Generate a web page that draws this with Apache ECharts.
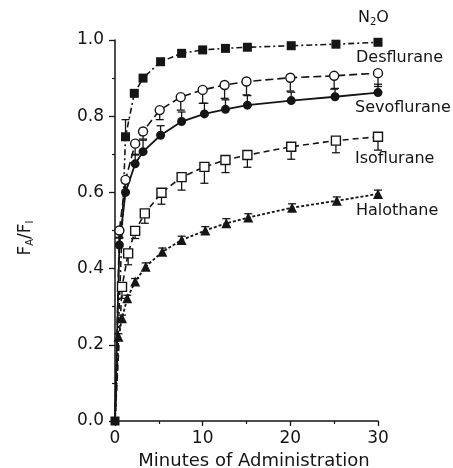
<!DOCTYPE html>
<html><head><meta charset="utf-8">
<script src="https://cdn.jsdelivr.net/npm/echarts@6/dist/echarts.min.js"></script>
<style>html,body{margin:0;padding:0;background:#fff}#c{width:453px;height:468px}</style>
</head><body><div id="c"></div>
<script>
// Data (minutes, FA/FI)
const desT = [0, 1.2, 2.2, 3.2, 5.2, 7.6, 10, 12.6, 15.1, 20.1, 25.2, 30];
const desV = [0, 0.746, 0.86, 0.90, 0.943, 0.965, 0.974, 0.978, 0.981, 0.985, 0.989, 0.994];
const desErr = [0, 0.045, 0.008, 0, 0, 0, 0, 0, 0, 0, 0, 0];

const n2oT = [0, 0.5, 1.2, 2.3, 3.2, 5.1, 7.5, 10, 12.5, 15, 20, 25, 30];
const n2oV = [0, 0.50, 0.633, 0.728, 0.76, 0.816, 0.85, 0.869, 0.882, 0.891, 0.901, 0.906, 0.913];
const n2oErr = [0, 0.02, 0.03, 0.03, 0.02, 0.025, 0.034, 0.035, 0.035, 0.035, 0.035, 0.035, 0.035];

const sevoT = [0, 0.5, 1.2, 2.3, 3.2, 5.2, 7.6, 10.2, 12.6, 15.1, 20.1, 25.1, 30];
const sevoV = [0, 0.462, 0.60, 0.675, 0.707, 0.75, 0.786, 0.806, 0.818, 0.829, 0.841, 0.851, 0.862];
const sevoErr = [0, 0.02, 0.025, 0.025, 0.03, 0.025, 0.025, 0.028, 0.025, 0.025, 0.022, 0.022, 0.022];

const isoT = [0, 0.8, 1.5, 2.3, 3.4, 5.3, 7.6, 10.2, 12.6, 15.1, 20.1, 25.2, 30];
const isoV = [0, 0.352, 0.44, 0.499, 0.545, 0.599, 0.64, 0.667, 0.685, 0.698, 0.72, 0.736, 0.746];
const isoErr = [0, 0.03, 0.03, 0.02, 0.026, 0.03, 0.034, 0.043, 0.033, 0.032, 0.033, 0.032, 0.035];

const haloT = [0, 0.4, 0.8, 1.4, 2.3, 3.5, 5.4, 7.6, 10.3, 12.7, 15.2, 20.2, 25.3, 30];
const haloV = [0, 0.221, 0.27, 0.322, 0.366, 0.405, 0.444, 0.475, 0.50, 0.519, 0.534, 0.56, 0.578, 0.596];
const haloErr = [0, 0.008, 0.008, 0.008, 0.008, 0.01, 0.01, 0.01, 0.01, 0.012, 0.01, 0.01, 0.01, 0.01];

const xTicks = [0, 10, 20, 30];
const yTicks = [0, 0.2, 0.4, 0.6, 0.8, 1.0];

const INK = '#151515';
const FONT = 'DejaVu Sans';

function pts(t, v, hideOrigin) {
  return t.map((x, i) => {
    const item = { value: [x, v[i]] };
    if (hideOrigin && x === 0 && v[i] === 0) item.symbol = 'none';
    return item;
  });
}

function lineSeries(name, t, v, symbol, filled, dash, width, hideOrigin) {
  return {
    name, type: 'line', data: pts(t, v, hideOrigin), z: 4,
    symbol, symbolSize: symbol === 'triangle' ? 10 : 9,
    showAllSymbol: true, animation: false, silent: true,
    lineStyle: { color: INK, width, type: dash },
    itemStyle: { color: filled ? INK : '#fff', borderColor: INK, borderWidth: filled ? 0 : 1.4 }
  };
}

function errSeries(t, v, e, dir) {
  const data = [];
  t.forEach((x, i) => { if (e[i] > 0) data.push([x, v[i], v[i] + dir * e[i]]); });
  return {
    type: 'custom', data, z: 2, silent: true, animation: false,
    encode: { x: 0, y: [1, 2] },
    renderItem(params, api) {
      const p0 = api.coord([api.value(0), api.value(1)]);
      const p1 = api.coord([api.value(0), api.value(2)]);
      return {
        type: 'group', children: [
          { type: 'line', shape: { x1: p0[0], y1: p0[1], x2: p1[0], y2: p1[1] }, style: { stroke: INK, lineWidth: 1.3 } },
          { type: 'line', shape: { x1: p1[0] - 4, y1: p1[1], x2: p1[0] + 4, y2: p1[1] }, style: { stroke: INK, lineWidth: 1.3 } }
        ]
      };
    }
  };
}

const chart = echarts.init(document.getElementById('c'), null, { renderer: 'canvas' });

const labelStyle = { fill: INK, font: '16px "' + FONT + '"', verticalAlign: 'middle', align: 'left' };

chart.setOption({
  backgroundColor: '#fff',
  animation: false,
  grid: { left: 115, right: 75, top: 40, bottom: 47, containLabel: false, outerBoundsMode: 'none' },
  xAxis: {
    type: 'value', min: xTicks[0], max: xTicks[xTicks.length - 1], interval: 10,
    name: 'Minutes of Administration', nameLocation: 'middle', nameGap: 28,
    nameTextStyle: { color: INK, fontSize: 18, fontFamily: FONT, padding: [0, 0, 0, 15] },
    axisLine: { show: true, onZero: false, lineStyle: { color: INK, width: 1.5 } },
    axisTick: { show: true, length: 5, lineStyle: { color: INK, width: 1.3 } },
    minorTick: { show: true, splitNumber: 2, length: 3, lineStyle: { color: INK, width: 1.2 } },
    splitLine: { show: false },
    axisLabel: { color: INK, fontSize: 17, fontFamily: FONT, margin: 9 }
  },
  yAxis: {
    type: 'value', min: yTicks[0], max: yTicks[yTicks.length - 1], interval: 0.2,
    axisLine: { show: true, onZero: false, lineStyle: { color: INK, width: 1.5 } },
    axisTick: { show: true, length: 6, lineStyle: { color: INK, width: 1.3 } },
    minorTick: { show: true, splitNumber: 2, length: 3, lineStyle: { color: INK, width: 1.2 } },
    splitLine: { show: false },
    axisLabel: { color: INK, fontSize: 17, fontFamily: FONT, margin: 11, formatter: v => v.toFixed(1) }
  },
  graphic: [
    { type: 'text', x: 26, y: 238, rotation: Math.PI / 2,
      style: { text: 'F{s|A}/F{s|I}', fill: INK, font: '17px "' + FONT + '"', align: 'center', verticalAlign: 'middle',
        rich: { s: { fontSize: 10, fontFamily: FONT, fill: INK, padding: [9, 0, 0, 0] } } } },
    { type: 'text', x: 358, y: 18, style: Object.assign({}, labelStyle, { text: 'N{s|2}O',
        rich: { s: { fontSize: 10, fontFamily: FONT, fill: INK, padding: [8, 0, 0, 0] } } }) },
    { type: 'text', x: 356, y: 58, style: Object.assign({}, labelStyle, { text: 'Desflurane' }) },
    { type: 'text', x: 355, y: 108, style: Object.assign({}, labelStyle, { text: 'Sevoflurane' }) },
    { type: 'text', x: 355, y: 159, style: Object.assign({}, labelStyle, { text: 'Isoflurane' }) },
    { type: 'text', x: 356, y: 211, style: Object.assign({}, labelStyle, { text: 'Halothane' }) }
  ],
  series: [
    errSeries(n2oT, n2oV, n2oErr, -1),
    errSeries(sevoT, sevoV, sevoErr, 1),
    errSeries(isoT, isoV, isoErr, -1),
    errSeries(haloT, haloV, haloErr, 1),
    errSeries(desT, desV, desErr, 1),
    lineSeries('Halothane', haloT, haloV, 'triangle', true, [3, 2], 1.8, true),
    lineSeries('Isoflurane', isoT, isoV, 'rect', false, [6, 4], 1.6, true),
    lineSeries('N2O', n2oT, n2oV, 'circle', false, [8, 4], 1.6, true),
    lineSeries('Sevoflurane', sevoT, sevoV, 'circle', true, 'solid', 1.8, true),
    lineSeries('Desflurane', desT, desV, 'rect', true, [6, 3, 2, 3], 1.6, false)
  ]
});
</script>
</body></html>
